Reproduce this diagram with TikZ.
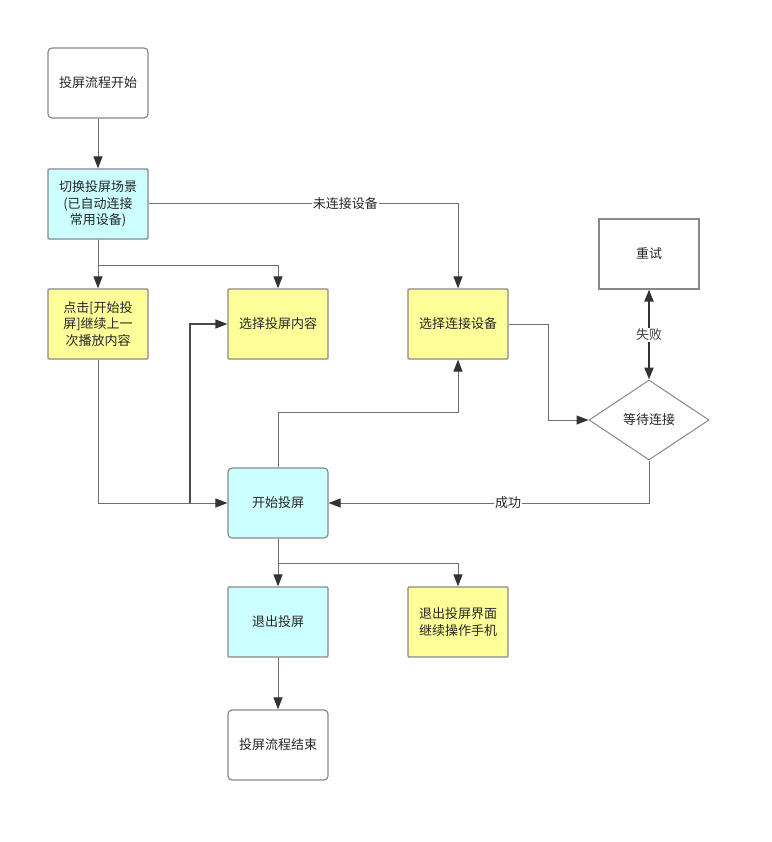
\documentclass[tikz,border=0pt]{standalone}
\usepackage{fontspec}
\setmainfont{Noto Sans CJK SC}
\usetikzlibrary{shapes.geometric,arrows.meta}
\definecolor{bcyan}{HTML}{CCFFFF}
\definecolor{byellow}{HTML}{FFFF99}
\definecolor{bline}{HTML}{888888}
\definecolor{cline}{HTML}{6E6E6E}
\definecolor{tipc}{HTML}{333333}
\begin{document}
\begin{tikzpicture}[x=1pt,y=-1pt,
  every node/.style={font=\fontsize{13}{16.5}\selectfont, text=black!85},
  box/.style={draw=bline, line width=1.2pt, minimum width=100pt, minimum height=70pt, align=center, inner sep=2pt, rounded corners=1pt},
  rbox/.style={box, rounded corners=4pt},
  cy/.style={fill=bcyan},
  ye/.style={fill=byellow},
  conn/.style={draw=cline, line width=1pt, -{Triangle[length=12pt,width=9pt,fill=tipc,color=tipc]}},
  lab/.style={fill=white, inner sep=1pt}
]
\useasboundingbox (0,0) rectangle (771,842);

\node[rbox] (start) at (98,83) {投屏流程开始};
\node[box,cy] (switch) at (98,204) {切换投屏场景\\(已自动连接\\常用设备)};
\node[box,ye] (click) at (98,324) {点击[开始投\\屏]继续上一\\次播放内容};
\node[box,ye] (selc) at (278,324) {选择投屏内容};
\node[box,ye] (seld) at (458,324) {选择连接设备};
\node[box, rounded corners=0pt] (retry) at (649,254) {重试};
\node[diamond, draw=bline, line width=1pt, minimum width=120pt, minimum height=80pt, aspect=1.5, inner sep=0pt] (wait) at (649,420) {等待连接};
\node[rbox,cy] (begin) at (278,503) {开始投屏};
\node[box,cy] (quit) at (278,622) {退出投屏};
\node[box,ye] (quitui) at (458,622) {退出投屏界面\\继续操作手机};
\node[rbox] (end) at (278,745) {投屏流程结束};

\coordinate (j1) at (98,265);
\coordinate (j2) at (190,503);
\coordinate (j3) at (278,563);

\draw[conn] (start) -- (switch);
\draw[conn] (switch) -- (click);
\draw[conn] (j1) -| (selc.north);
\draw[conn] (switch.east) -| (seld.north) node[lab, pos=0.318] {未连接设备};
\draw[conn] (click.south) |- (begin.west);
\draw[conn, draw=black!70, line width=1.3pt] (j2) |- (selc.west);
\draw[conn] (begin.north) -- (278,412) -| (seld.south);
\draw[conn] (seld.east) -- (548,324) |- (wait.west);
\draw[draw=tipc, line width=2pt, {Triangle[length=12pt,width=9pt]}-{Triangle[length=12pt,width=9pt]}] (retry.south) -- (wait.north) node[lab, midway, text=black!75] {失败};
\draw[conn] (wait.south) |- (begin.east) node[lab, pos=0.72] {成功};
\draw[conn] (begin) -- (quit);
\draw[conn] (j3) -| (quitui.north);
\draw[conn] (quit) -- (end);
\end{tikzpicture}
\end{document}
